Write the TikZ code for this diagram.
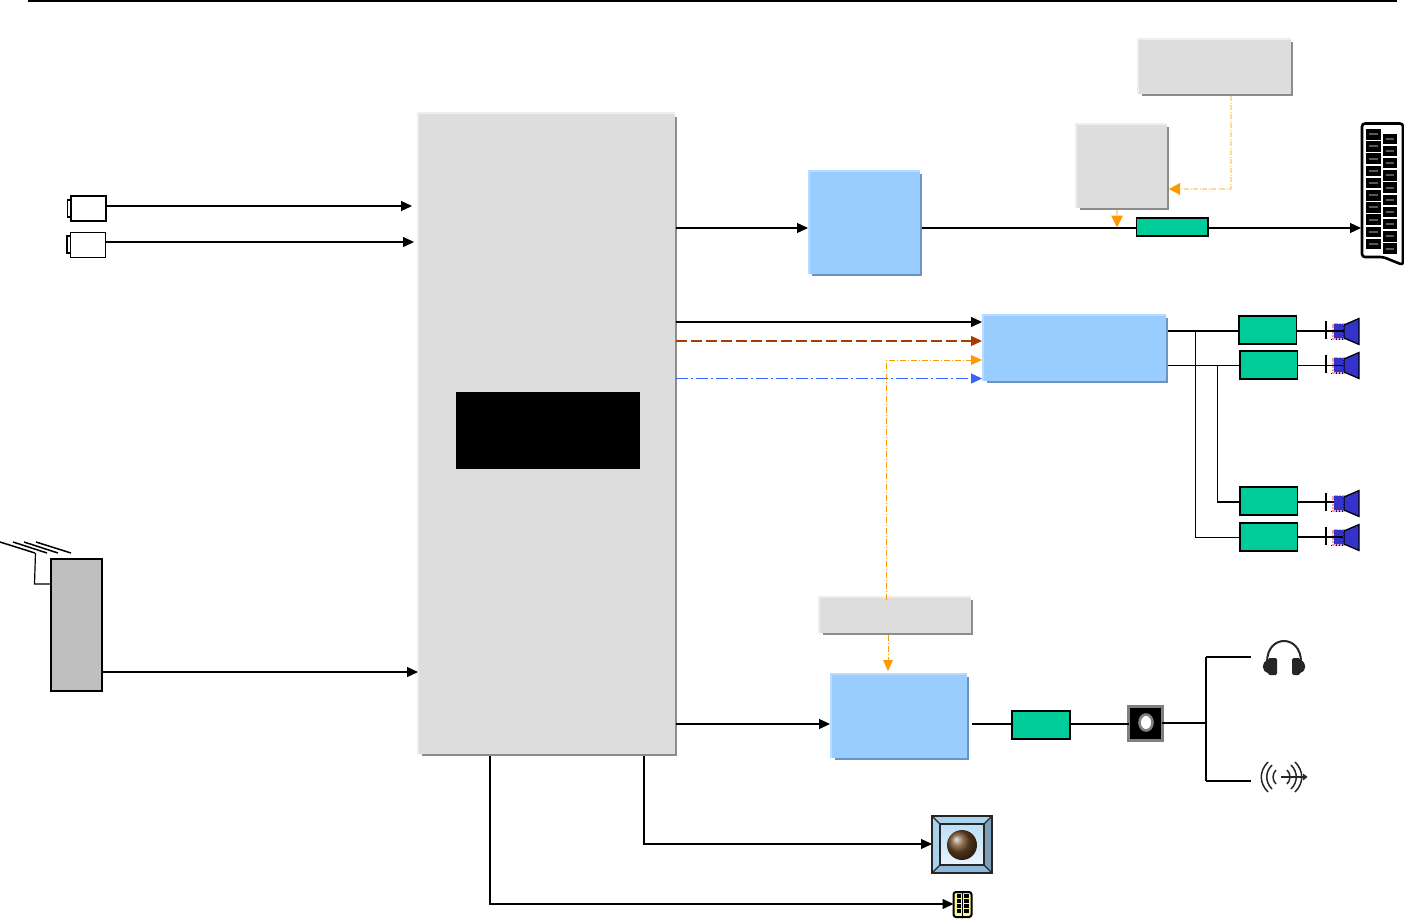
\documentclass[tikz,border=0pt]{standalone}
\usetikzlibrary{arrows.meta,calc}
\definecolor{panel}{HTML}{DDDDDD}
\definecolor{panelshadow}{HTML}{8C8C8C}
\definecolor{panellight}{HTML}{EEEEEE}
\definecolor{bluebox}{HTML}{99CCFF}
\definecolor{blueshadow}{HTML}{6C94BC}
\definecolor{bluelight}{HTML}{B8DCFF}
\definecolor{greenbox}{HTML}{00CC99}
\definecolor{orangeline}{HTML}{FF9900}
\definecolor{orangefaint}{HTML}{FFD8A0}
\definecolor{brownline}{HTML}{A63C00}
\definecolor{blueline}{HTML}{3366FF}
\definecolor{conecol}{HTML}{3333CC}
\definecolor{conepink}{HTML}{FF9C9C}
\definecolor{bevelA}{HTML}{A9D2EC}
\definecolor{bevelB}{HTML}{7F9FB8}
\definecolor{bevelC}{HTML}{8DB9DA}
\definecolor{faceA}{HTML}{BBDFF6}
\definecolor{faceB}{HTML}{EAF5FF}
\definecolor{ballcol}{HTML}{6E4A26}
\tikzset{
  x=1pt,y=-1pt,
  block/.style={inner sep=0pt,outer sep=0pt,rectangle},
  amp/.style={block,fill=greenbox,draw=black,line width=1.2pt},
  wire/.style={line width=1.2pt,black},
  fine wire/.style={line width=1pt,black},
  thick wire/.style={line width=2.2pt,black},
  arrowed/.style={-{Triangle[length=11pt,width=10pt]}},
  ctrl/.style={line width=1.1pt,orangefaint,dash pattern=on 5pt off 1.5pt on 1pt off 1.5pt},
  ctrl strong/.style={line width=.9pt,orangeline,dash pattern=on 6pt off 2pt on 1pt off 2pt},
}
\newcommand\bx[6]{\node[block,#6,minimum width={(#4-#2)*1pt},minimum height={(#5-#3)*1pt}] (#1) at ({(#2+#4)/2},{(#3+#5)/2}) {};}
\newcommand\sbx[8]{%
  \fill[#7] ({#2+2.5},{#3+2.5}) rectangle ({#4+2.5},{#5+2.5});
  \fill[#8] ({#2-2},{#3-2}) rectangle (#4,#5);
  \bx{#1}{#2}{#3}{#4}{#5}{fill=#6}}
\newcommand\speaker[2]{% name, centre y
  \begin{scope}[shift={(0,#2)}]
    \draw[line width=1.3pt] (1326,-10) -- (1326,8);
    \draw[line width=1.2pt] (1331,8.5) -- (1343,8.5);
    \fill[conecol] (1333.5,-7) rectangle (1344,7.5);
    \draw[conepink,line width=1.3pt,dash pattern=on 2pt off .8pt] (1333,-7.5) rectangle (1344,8);
    \node[block,minimum size=1pt] (#1) at (1326,0) {};
    \draw[fill=conecol,line width=1.3pt,line join=miter] (1344,-6) -- (1359,-12.5) -- (1359,13.5) -- (1344,7) -- cycle;
  \end{scope}}
\begin{document}
\begin{tikzpicture}
\useasboundingbox (0,0) rectangle (1404,918);
% top rule
\coordinate (ruleL) at (28,1);
\coordinate (ruleR) at (1397,1);
\draw[line width=1.2pt] (ruleL) -- (ruleR);

% panels
\sbx{main}{419}{114}{674.5}{753.5}{panel}{panelshadow}{panellight}
\bx{screen}{456}{392}{640}{469}{fill=black}
\sbx{topa}{1139}{39.5}{1290.5}{93.5}{panel}{panelshadow}{panellight}
\sbx{topb}{1077}{124.5}{1166.5}{207.5}{panel}{panelshadow}{panellight}
\sbx{ctrlbox}{820}{597.5}{970.5}{632.5}{panel}{panelshadow}{panellight}
\sbx{blueA}{809.5}{171.5}{919.5}{273.5}{bluebox}{blueshadow}{bluelight}
\sbx{blueB}{984}{315.5}{1165.5}{380.5}{bluebox}{blueshadow}{bluelight}
\sbx{blueC}{832}{674.5}{966.5}{757.5}{bluebox}{blueshadow}{bluelight}

% green amplifiers
\bx{ampA}{1136.5}{218}{1208}{236}{amp}
\bx{ampB}{1239}{316}{1296.5}{344}{amp}
\bx{ampC}{1240}{351}{1297.5}{379}{amp}
\bx{ampD}{1240}{487}{1297.5}{515}{amp}
\bx{ampE}{1240}{523}{1297.5}{551}{amp}
\bx{ampF}{1012}{711}{1070}{739}{amp}

% batteries
\draw[fill=white,line width=1.5pt] (67.5,200) rectangle (71,217);
\bx{batA}{71}{196}{106}{221}{draw=black,line width=2pt,fill=white}
\draw[fill=white,line width=1.5pt] (67,236) rectangle (70.5,253);
\bx{batB}{70.5}{232.5}{105.5}{257.5}{draw=black,line width=1.8pt,fill=white}

% tuner and antenna
\bx{tuner}{51}{559}{102}{691}{draw=black,line width=1.2pt,fill=black!25}
\coordinate (mastTop) at (35.5,553);
\coordinate (mastFoot) at (34.5,584);
\foreach \dx/\ex in {0/35,13/47,24/58,36/71}
  \draw[line width=1.5pt] (\dx,542) -- (\ex,553);
\draw[wire] (mastTop) -- (mastFoot) -- (tuner.west |- mastFoot);

% SCART connector
\node[block,minimum width=42pt,minimum height=142pt] (scart) at (1382,194) {};
\draw[line width=2.6pt,fill=white,rounded corners=3pt] (1362,123.5) -- (1403,123.5) -- (1403,265) -- (1383,257) -- (1362,257) -- cycle;
\foreach \i in {0,...,9} {
  \fill[black] (1366,{129+12.2*\i}) rectangle (1381,{139.5+12.2*\i});
  \fill[black!65] (1369,{133.2+12.2*\i}) rectangle (1378,{135.2+12.2*\i});
  \fill[black] (1383,{133.5+12.2*\i}) rectangle (1397,{144+12.2*\i});
  \fill[black!65] (1386,{137.7+12.2*\i}) rectangle (1394,{139.7+12.2*\i});
}

% speakers
\speaker{spkA}{331}
\speaker{spkB}{365}
\speaker{spkC}{503}
\speaker{spkD}{537}

% jack
\bx{jack}{1128.5}{706.5}{1162}{740}{fill=black,draw=black!50,line width=3pt}
\draw[black!50,fill=white,line width=2.6pt] (1146,722.5) ellipse (6.5pt and 8pt);

% headphones
\node[block,minimum width=42pt,minimum height=34pt] (phones) at (1284,658) {};
\draw[line width=2pt,black!85] (1267,662) .. controls (1267,634) and (1301,634) .. (1301,662);
\fill[black!85,rounded corners=1.5pt] (1268,658) rectangle (1277,675);
\fill[black!85,rounded corners=1.5pt] (1292,658) rectangle (1300,675);
\fill[black!85] (1268,660) .. controls (1261,662) and (1261,671) .. (1268,673) -- cycle;
\fill[black!85] (1300,660) .. controls (1307,662) and (1307,671) .. (1300,673) -- cycle;

% sound radiating symbol
\node[block,minimum width=44pt,minimum height=32pt] (sound) at (1284,777) {};
\begin{scope}[line width=1.5pt,black!85]
  \draw (1268,762) .. controls (1259,771) and (1259,783) .. (1268,792);
  \draw (1272,765) .. controls (1265,772) and (1265,782) .. (1272,789);
  \draw (1276,770) .. controls (1272,774) and (1272,780) .. (1276,784);
  \draw (1287,770) .. controls (1291,774) and (1291,780) .. (1287,784);
  \draw (1291,765) .. controls (1298,772) and (1298,782) .. (1291,789);
  \draw (1295,762) .. controls (1304,771) and (1304,783) .. (1295,792);
  \draw[line width=1.1pt] (1281,777) -- (1303,777);
  \fill (1303,773.5) -- (1307.5,777) -- (1303,780.5) -- cycle;
\end{scope}

% ball button
\bx{knob}{932}{816}{992}{873}{fill=bevelA}
\fill[bevelB] (992,816) -- (992,873) -- (984,865) -- (984,824) -- cycle;
\fill[bevelC] (932,873) -- (992,873) -- (984,865) -- (940,865) -- cycle;
\shade[top color=faceA,bottom color=faceB] (940,824) rectangle (984,865);
\draw[line width=1.6pt,black!85] (932,816) rectangle (992,873);
\draw[line width=1.3pt,black!85] (940,824) rectangle (984,865);
\draw[line width=1.2pt,black!85] (932,816) -- (940,824) (992,816) -- (984,824) (932,873) -- (940,865) (992,873) -- (984,865);
\shade[ball color=ballcol] (962,845) circle (15pt);

% keypad icon
\node[block,draw=black,fill=yellow!45,line width=2pt,rounded corners=2.5pt,minimum width=18pt,minimum height=25pt] (keys) at (962.5,904.5) {};
\foreach \yy in {896,901,906,911} {
  \fill[black] (956.5,\yy-1.7) rectangle (961,\yy+1.7);
  \fill[black] (964,\yy-1.7) rectangle (968.5,\yy+1.7);
}
\draw[line width=.8pt] (962.5,893) -- (962.5,916);

% input connectors
\coordinate (inA) at (412,206);
\coordinate (inB) at (414,242);
\coordinate (inC) at (418,672);
\draw[wire,arrowed] (batA.east |- inA) -- (inA);
\draw[wire,arrowed] (batB.east |- inB) -- (inB);
\draw[wire,arrowed] (tuner.east |- inC) -- (inC);

% main to blocks
\coordinate (y228) at (0,228);
\coordinate (y322) at (0,322);
\coordinate (y341) at (0,341);
\coordinate (y378) at (0,378.5);
\coordinate (y724) at (0,724);
\draw[wire,arrowed] (main.east |- y228) ++(1.5,0) -- ([xshift=-1.5pt]blueA.west |- y228);
\draw[wire] (blueA.east |- y228) ++(2,0) -- (ampA.west |- y228);
\draw[wire,arrowed] (ampA.east |- y228) -- (scart.west |- y228);
\draw[wire,arrowed] (main.east |- y322) ++(1.5,0) -- ([xshift=-2pt]blueB.west |- y322);
\draw[line width=1.4pt,brownline,dash pattern=on 11pt off 4pt,-{Triangle[length=11pt,width=10pt,fill=brownline]}] (main.east |- y341) ++(1.5,0) -- ([xshift=-2pt]blueB.west |- y341);
\draw[line width=1.4pt,blueline,dash pattern=on 12pt off 3pt on 2pt off 3pt,-{Triangle[length=11pt,width=10pt,fill=blueline]}] (main.east |- y378) ++(1.5,0) -- ([xshift=-2pt]blueB.west |- y378);
\draw[wire,arrowed] (main.east |- y724) ++(1.5,0) -- ([xshift=-2pt]blueC.west |- y724);

% orange control lines
\coordinate (ctrlBend) at (886,360);
\coordinate (ctrlEnd) at (972,360);
\draw[ctrl strong] ([yshift=-2pt]ctrlbox.north -| ctrlBend) -- (ctrlBend) -- (ctrlEnd);
\fill[orangeline] (982,360) -- (971,355) -- (971,365) -- cycle;
\coordinate (ctrlDown) at (888,661);
\draw[ctrl strong] (ctrlbox.south -| ctrlDown) ++(0,2.5) -- (ctrlDown);
\fill[orangeline] (883,660) -- (893,660) -- (888,671) -- cycle;
\coordinate (loopA) at (1231,189);
\coordinate (loopB) at (1180,189);
\draw[ctrl] (topa.south -| loopA) ++(0,2.5) -- (loopA) -- (loopB);
\fill[orangeline] (1169,189) -- (1180,183) -- (1180,195) -- cycle;
\coordinate (noteIn) at (1117,216);
\draw[ctrl] (topb.south -| noteIn) ++(0,2.5) -- (noteIn);
\fill[orangeline] (1111,215.5) -- (1123,215.5) -- (1117,227.5) -- cycle;

% speaker feeds
\coordinate (y331) at (0,331);
\coordinate (y365) at (0,365.5);
\coordinate (y502) at (0,502);
\coordinate (y537) at (0,537);
\draw[thick wire] (blueB.east |- y331) ++(2.5,0) -- (ampB.west |- y331);
\draw[wire] (blueB.east |- y365) ++(2.5,0) -- (ampC.west |- y365);
\draw[fine wire] (1195,331) -- (1195,537) -- (ampE.west |- y537);
\draw[fine wire] (1217,365.5) -- (1217,502);
\draw[thick wire] (1217,502) -- (ampD.west |- y502);
\draw[thick wire] (ampB.east |- y331) -- (spkA.center);
\draw[wire] (spkA.center) -- (1344,331);
\draw[wire] (ampC.east |- y365) -- (1343,365.5);
\draw[thick wire] (ampD.east |- y502) -- (1334,502);
\draw[wire] (ampE.east |- y537) -- (1343,537);
\draw[wire] (972,724) -- (ampF.west |- y724);
\draw[wire] (ampF.east |- y724) -- (jack.west |- y724);

% jack to outputs
\coordinate (fork) at (1206,723);
\coordinate (forkUp) at (1206,657);
\coordinate (forkDn) at (1206,781);
\draw[thick wire] (jack.east |- fork) -- (fork);
\draw[line width=1.6pt] (forkUp) -- (forkDn);
\draw[wire] (forkUp) -- (1251,657);
\draw[line width=1.6pt] (forkDn) -- (1251,781);

% bottom connectors
\coordinate (knobIn) at (644,844);
\coordinate (keysIn) at (490,904);
\draw[wire,arrowed] (main.south -| knobIn) ++(0,2.5) -- (knobIn) -- (knob.west |- knobIn);
\draw[wire,arrowed] (main.south -| keysIn) ++(0,2.5) -- (keysIn) -- (keys.west |- keysIn);
\end{tikzpicture}
\end{document}
